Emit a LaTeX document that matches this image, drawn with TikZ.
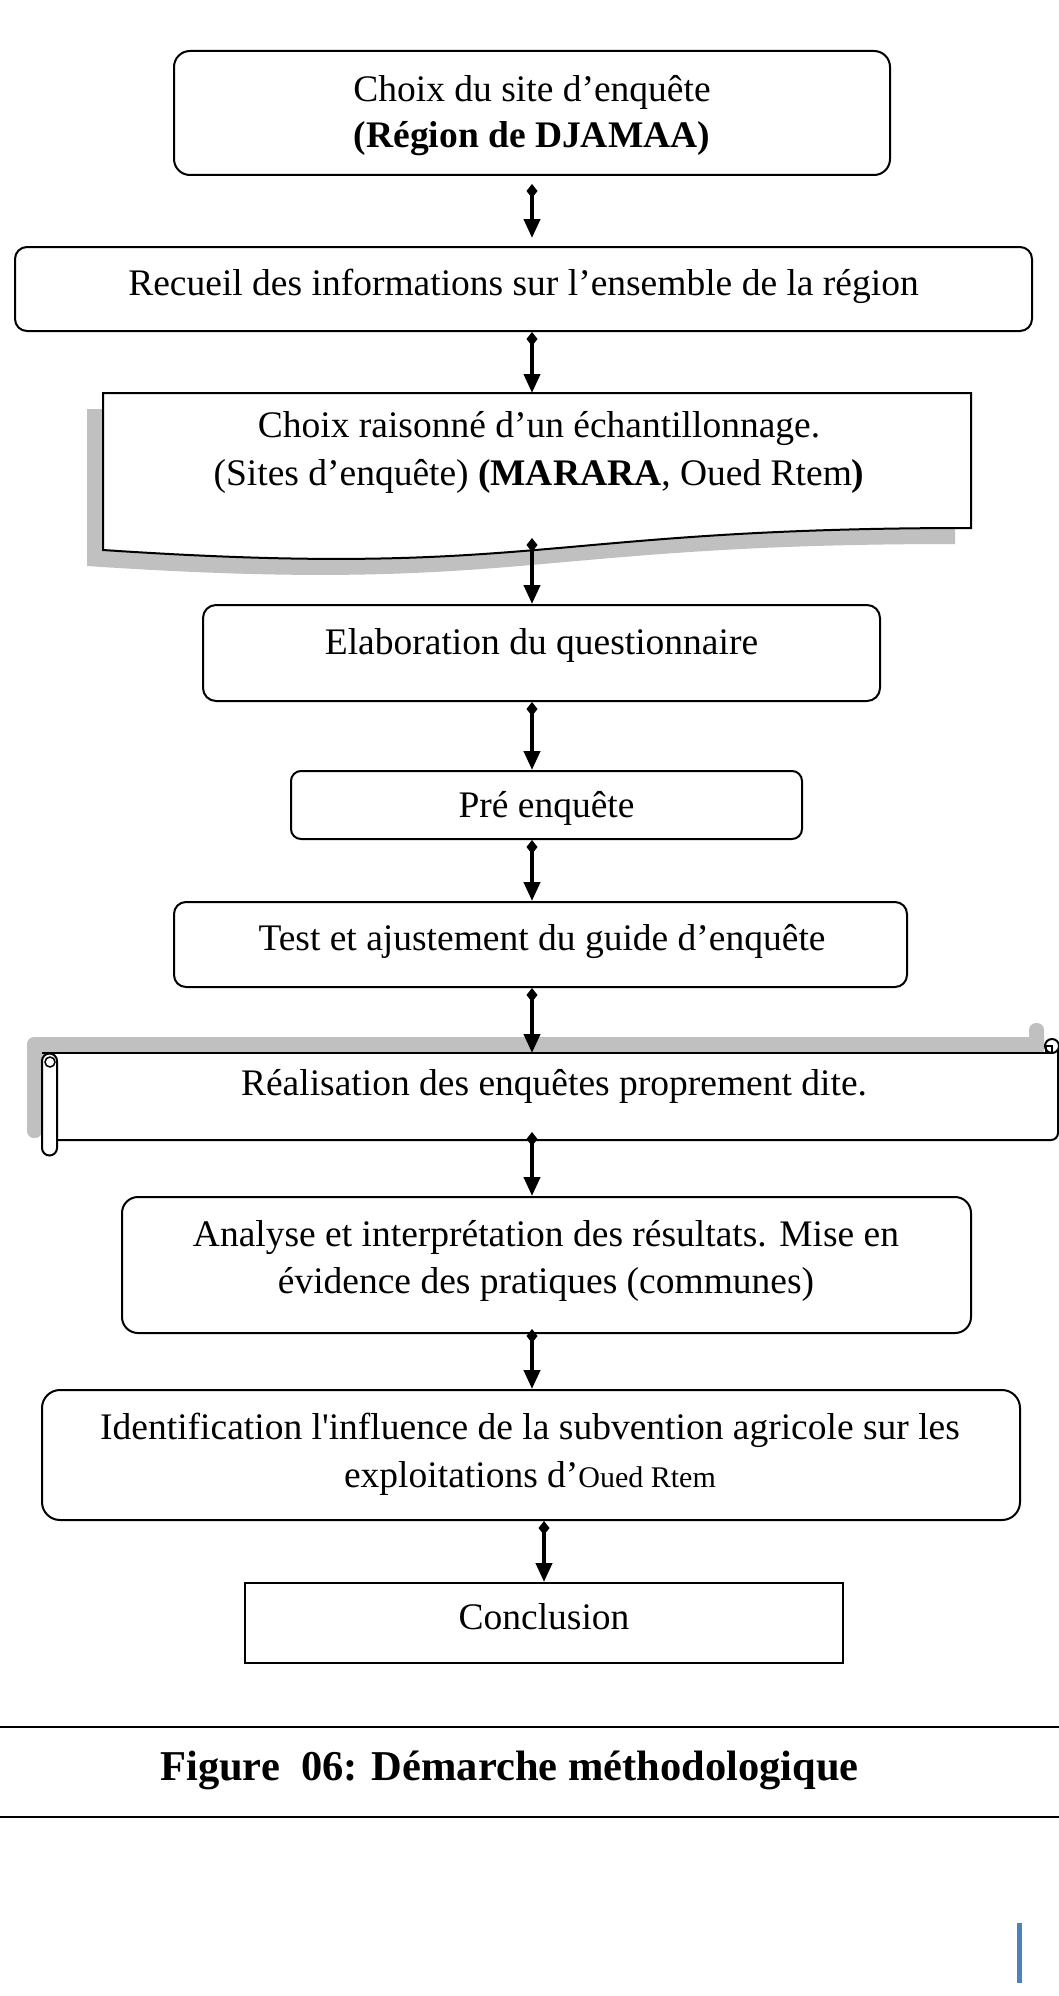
\documentclass[tikz,border=0pt]{standalone}
\usepackage{fontspec}
\setmainfont{Liberation Serif}
\usetikzlibrary{arrows.meta}
\definecolor{shadowgray}{HTML}{C0C0C0}
\definecolor{barblue}{HTML}{4F81BD}
\newcommand{\straightapos}{\XeTeXglyph\XeTeXcharglyph"0027\relax}
\begin{document}
\begin{tikzpicture}[x=1pt,y=-1pt,
  box/.style={draw, line width=2pt, fill=white, inner sep=0pt, rectangle},
  frame/.style={inner sep=0pt, outer sep=0pt, rectangle},
  txt/.style={inner sep=0pt, anchor=base, font=\fontsize{37.5}{45}\selectfont},
  captxt/.style={inner sep=0pt, anchor=base, font=\fontsize{42.5}{50}\selectfont\bfseries},
  conn/.style={line width=4pt, {Diamond[length=14pt,width=11pt]}-{Triangle[length=19pt,width=16pt]}},
  outline/.style={line width=2pt},
]
\useasboundingbox (0,0) rectangle (1059,1996);
\fill[white] (0,0) rectangle (1059,1996);
\coordinate (ax) at (532,0);
\coordinate (bx) at (544,0);

% Box 1
\node[box, rounded corners=16pt, minimum width=716pt, minimum height=124pt] (b1) at (532,113) {};
\node[txt] (t1a) at (532,102) {Choix du site d’enquête};
\node[txt] (t1b) at (532,148) {\textbf{(Région de DJAMAA)}};

% Box 2
\node[box, rounded corners=12pt, minimum width=1017pt, minimum height=84pt] (b2) at (523.5,289) {};
\node[txt] (t2) at (523.5,295) {Recueil des informations sur l’ensemble de la région};

% Box 3 (document shape with shadow)
\node[frame, minimum width=868pt, minimum height=157pt] (b3) at (537,471.5) {};
\fill[shadowgray] (87,409) -- (955,409) -- (955,544) .. controls (521,544) and (521,595) .. (87,566) -- cycle;
\filldraw[outline, fill=white] (103,393) -- (971,393) -- (971,528) .. controls (537,528) and (537,579) .. (103,550) -- cycle;
\node[txt] (t3a) at (539,437) {Choix raisonné d’un échantillonnage.};
\node[txt] (t3b) at (539,485) {(Sites d’enquête) \textbf{(MARARA}, Oued Rtem\textbf{)}};
\coordinate (w3) at (532,538);

% Box 4
\node[box, rounded corners=13pt, minimum width=677pt, minimum height=96pt] (b4) at (541.5,653) {};
\node[txt] (t4) at (541.5,654) {Elaboration du questionnaire};

% Box 5
\node[box, rounded corners=10pt, minimum width=511pt, minimum height=68pt] (b5) at (546.5,805) {};
\node[txt] (t5) at (546.5,817) {Pré enquête};

% Box 6
\node[box, rounded corners=12pt, minimum width=733pt, minimum height=85pt] (b6) at (540.5,944.5) {};
\node[txt] (t6) at (542,950) {Test et ajustement du guide d’enquête};

% Box 7 (horizontal scroll with shadow)
\node[frame, minimum width=1001pt, minimum height=87pt] (b7) at (557.5,1096.5) {};
\fill[shadowgray, rounded corners=7pt] (27,1138) -- (27,1037) -- (1044,1037) -- (1044,1053) -- (42,1053) -- (42,1138) -- cycle;
\fill[shadowgray, rounded corners=7pt] (1029,1056) -- (1029,1023) -- (1044,1023) -- (1044,1056) -- cycle;
\fill[white] (57,1053) rectangle (1058,1140);
\draw[outline] (42,1053) -- (1046,1053);
\draw[outline, rounded corners=7pt] (1058,1046) -- (1058,1140) -- (57,1140);
\filldraw[outline, fill=white] (1052,1046) circle (7pt);
\draw[line width=1.5pt] (1046,1046) rectangle (1052,1053);
\filldraw[outline, fill=white] (42,1061) arc[start angle=180, end angle=0, radius=7.5pt] -- (57,1148) arc[start angle=0, end angle=-180, radius=7.5pt] -- cycle;
\draw[line width=1.5pt] (50,1062) circle (5pt);
\node[txt] (t7) at (554,1095) {Réalisation des enquêtes proprement dite.};

% Box 8
\node[box, rounded corners=16pt, minimum width=849pt, minimum height=136pt] (b8) at (546.5,1265) {};
\node[txt] (t8a) at (546,1246) {Analyse et interprétation des résultats. Mise en};
\node[txt] (t8b) at (546,1293) {évidence des pratiques (communes)};

% Box 9
\node[box, rounded corners=18pt, minimum width=978pt, minimum height=130pt] (b9) at (531,1455) {};
\node[txt] (t9a) at (530,1439) {Identification l\straightapos influence de la subvention agricole sur les};
\node[txt] (t9b) at (530,1487) {exploitations d’{\fontsize{30}{36}\selectfont Oued Rtem}};

% Box 10
\node[box, minimum width=598pt, minimum height=80pt] (b10) at (544,1623) {};
\node[txt] (t10) at (544,1629) {Conclusion};

% Connectors
\draw[conn] ([yshift=-8pt]b1.south -| ax) -- ([yshift=8pt]b2.north -| ax);
\draw[conn] (b2.south -| ax) -- (b3.north -| ax);
\draw[conn] (w3) -- (b4.north -| ax);
\draw[conn] (b4.south -| ax) -- (b5.north -| ax);
\draw[conn] (b5.south -| ax) -- (b6.north -| ax);
\draw[conn] (b6.south -| ax) -- (b7.north -| ax);
\draw[conn] ([yshift=8pt]b7.south -| ax) -- (b8.north -| ax);
\draw[conn] ([yshift=5pt]b8.south -| ax) -- (b9.north -| ax);
\draw[conn] (b9.south -| bx) -- (b10.north -| bx);

% Caption
\coordinate (r1l) at (0,1727);
\coordinate (r1r) at (1059,1727);
\coordinate (r2l) at (0,1817);
\coordinate (r2r) at (1059,1817);
\draw[line width=2.5pt] (r1l) -- (r1r);
\draw[line width=2.5pt] (r2l) -- (r2r);
\node[captxt] (cap) at (509.5,1780) {Figure\ \ 06: Démarche méthodologique};

% Blue bar
\fill[barblue] (1017,1923) rectangle (1022,1983);
\end{tikzpicture}
\end{document}
